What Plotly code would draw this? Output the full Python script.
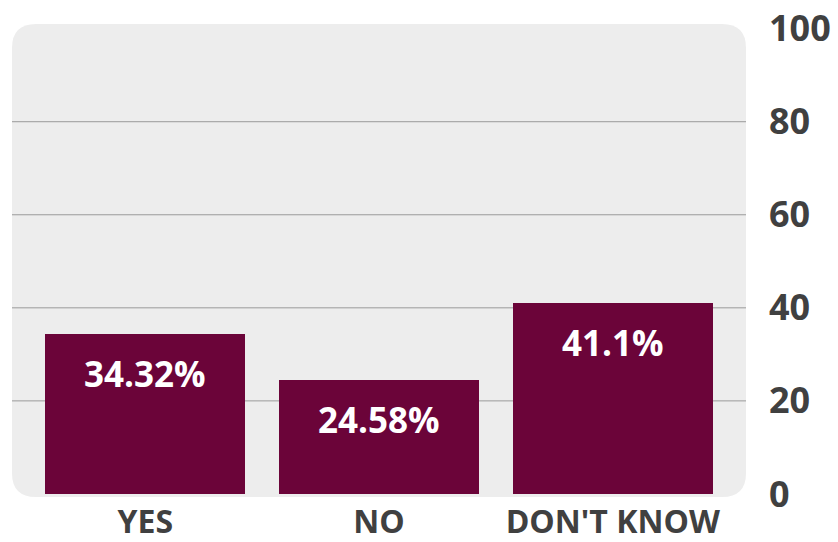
import plotly.graph_objects as go

categories = ["YES", "NO", "DON'T KNOW"]
values = [34.32, 24.58, 41.1]
value_labels = ["34.32%", "24.58%", "41.1%"]
y_ticks = [0, 20, 40, 60, 80, 100]
grid_values = [20, 40, 60, 80]

BAR = "#6b0439"
PANEL = "#ededed"
INK = "#404040"
FONT = "Open Sans"

W, H = 838, 542
ML, MR, MT, MB = 12, 92, 24, 42

fig = go.Figure(
    go.Bar(
        x=categories,
        y=values,
        marker=dict(color=BAR, line=dict(width=0)),
        width=0.855,
        hoverinfo="skip",
    )
)

# value labels inside the top of each bar
for cat, val, lab in zip(categories, values, value_labels):
    fig.add_annotation(
        x=cat, y=val, xref="x", yref="y",
        text=lab, showarrow=False,
        yanchor="top", yshift=-14,
        font=dict(family=FONT, size=35, color="white", weight="bold"),
    )

# rounded panel behind the plot
pw, ph = W - ML - MR, H - MT - MB
r = 24
rx, ry = r / pw, r / ph
top = 1.0
bot = 3 / ph
path = (
    f"M {rx},{top} L {1 - rx},{top} Q 1,{top} 1,{top - ry} "
    f"L 1,{bot + ry} Q 1,{bot} {1 - rx},{bot} "
    f"L {rx},{bot} Q 0,{bot} 0,{bot + ry} "
    f"L 0,{top - ry} Q 0,{top} {rx},{top} Z"
)
fig.add_shape(type="path", path=path, xref="paper", yref="paper",
              fillcolor=PANEL, line=dict(width=0), layer="below")

# horizontal grid lines
for g in grid_values:
    fig.add_shape(type="line", xref="paper", yref="y", x0=0, x1=1, y0=g, y1=g,
                  line=dict(color="#9a9a9a", width=1), layer="below")

fig.update_layout(
    width=W, height=H,
    margin=dict(l=ML, r=MR, t=MT, b=MB, autoexpand=False),
    paper_bgcolor="white",
    plot_bgcolor="rgba(0,0,0,0)",
    showlegend=False,
    bargap=0,
    xaxis=dict(
        range=[-0.57, 2.57],
        automargin=False,
        showgrid=False, zeroline=False, showline=False,
        ticks="",
        ticklabelstandoff=0,
        ticklabeloverflow="allow",
        tickfont=dict(family=FONT, size=32, color=INK, weight="bold"),
        fixedrange=True,
    ),
    yaxis=dict(
        range=[-1.3, 101],
        automargin=False,
        side="right",
        tickvals=y_ticks,
        showgrid=False, zeroline=False, showline=False,
        ticks="",
        ticklabelstandoff=22,
        ticklabeloverflow="allow",
        tickfont=dict(family=FONT, size=36, color=INK, weight="bold"),
        fixedrange=True,
    ),
)

fig.write_html("out.html")
